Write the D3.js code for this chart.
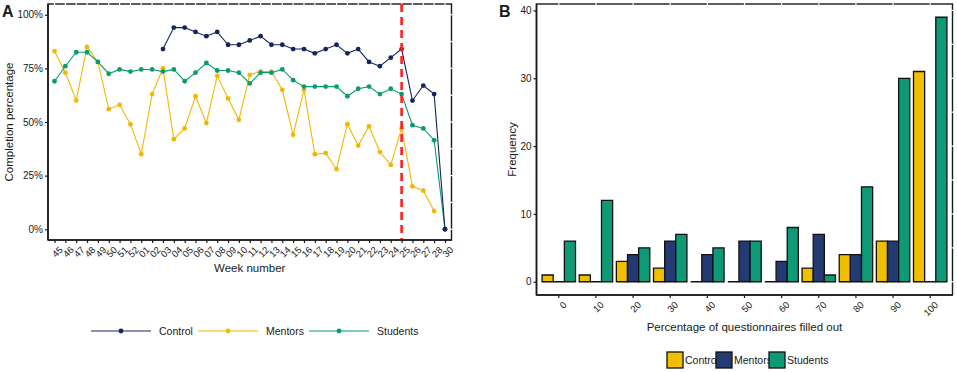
<!DOCTYPE html>
<html>
<head>
<meta charset="utf-8">
<script src="https://cdn.jsdelivr.net/npm/d3@7"></script>
<style>
  body { margin: 0; background: #fff; }
  text { font-family: "Liberation Sans", Arial, sans-serif; fill: #1a1a1a; }
</style>
</head>
<body>
<svg id="chart" width="957" height="372"></svg>
<script>
// ---- panel A data: weekly completion percentage
const weeks = ["45","46","47","48","49","50","51","52","01","02","03","04","05","06","07","08","09","10",
  "11","12","13","14","15","16","17","18","19","20","21","22","23","24","25","26","27","28","30"];
const controlPct = [null,null,null,null,null,null,null,null,null,null,84,94,94,92,90,92,86,86,
  88,90,86,86,84,84,82,84,86,82,84,78,76,80,84,60,67,63,0];
const mentorsPct = [83,73,60,85,78,56,58,49,35,63,75,42,47,62,49.5,71.5,61,51,
  72,73.5,73.5,65,44,65,35,35.5,28,49,39,48,36,30,47,20,18,8.5,null];
const studentsPct = [69,76,82.5,82.5,78,72.5,74.5,73.5,74.5,74.5,73.5,74.5,69,73,77.5,74,74,73,
  68,73,73,74.5,69.5,66.5,66.5,66.5,66.5,62,65.5,66.5,63,65.5,63,48.5,47,41.5,0];
const cutoffWeek = "25";
const pctTicks = [0, 25, 50, 75, 100];

// ---- panel B data: histogram of questionnaires filled out
const bins = ["0","10","20","30","40","50","60","70","80","90","100"];
const groupsB = ["Control", "Mentors", "Students"];
const controlFreq  = [1, 1, 3, 2, 0, 0, 0, 2, 4, 6, 31];
const mentorsFreq  = [0, 0, 4, 6, 4, 6, 3, 7, 4, 6, 0];
const studentsFreq = [6, 12, 5, 7, 5, 6, 8, 1, 14, 30, 39];
const freqTicks = [0, 10, 20, 30, 40];

const lineColors = {Control: "#15245a", Mentors: "#f2b705", Students: "#0c9a70"};
const barColors = {Control: "#f0bf00", Mentors: "#233a73", Students: "#0f9a77"};

const svg = d3.select("#chart");

function frame(g, x0, x1, y0, y1, xs, ys) {
  g.append("rect").attr("x", x0).attr("y", y0).attr("width", x1 - x0).attr("height", y1 - y0)
    .attr("fill", "none").attr("stroke", "#1a1a1a").attr("stroke-width", 1.4);
  // white grid lines cut through the top and right border
  g.selectAll(null).data(xs).enter().append("line")
    .attr("x1", d => d).attr("x2", d => d).attr("y1", y0 - 2).attr("y2", y0 + 2)
    .attr("stroke", "#fff").attr("stroke-width", 1.2);
  g.selectAll(null).data(ys).enter().append("line")
    .attr("y1", d => d).attr("y2", d => d).attr("x1", x1 - 2).attr("x2", x1 + 2)
    .attr("stroke", "#fff").attr("stroke-width", 1.2);
}

function styleAxis(ax) {
  ax.select(".domain").remove();
  ax.selectAll(".tick line").attr("stroke", "#1a1a1a").attr("stroke-width", 1.2);
  ax.selectAll("text").style("font-size", "10px").attr("fill", "#1a1a1a");
}

// ================= Panel A =================
const A = {x0: 48, x1: 451.5, y0: 4, y1: 240};
const xA = d3.scalePoint().domain(weeks).range([A.x0, A.x1]).padding(0.6);
const yA = d3.scaleLinear().domain([-5, 105]).range([A.y1, A.y0]);
const gA = svg.append("g");

const minorA = d3.range(12.5, 100, 25);
frame(gA, A.x0, A.x1, A.y0, A.y1, weeks.map(xA), pctTicks.concat(minorA).map(yA));

const seriesA = [
  {name: "Control", vals: controlPct},
  {name: "Mentors", vals: mentorsPct},
  {name: "Students", vals: studentsPct}
];
const lineA = d3.line().defined(d => d.v != null).x(d => xA(d.w)).y(d => yA(d.v));
const drawOrder = ["Mentors", "Students", "Control"];
drawOrder.forEach(name => {
  const s = seriesA.find(d => d.name === name);
  const pts = weeks.map((w, i) => ({w: w, v: s.vals[i]}));
  gA.append("path").datum(pts).attr("d", lineA).attr("fill", "none")
    .attr("stroke", lineColors[name]).attr("stroke-width", 1.1);
  gA.selectAll(null).data(pts.filter(d => d.v != null)).enter().append("circle")
    .attr("cx", d => xA(d.w)).attr("cy", d => yA(d.v)).attr("r", 2.4)
    .attr("fill", lineColors[name]);
});

gA.append("line").attr("x1", xA(cutoffWeek)).attr("x2", xA(cutoffWeek))
  .attr("y1", A.y0).attr("y2", A.y1)
  .attr("stroke", "#ff1f1f").attr("stroke-width", 2.6).attr("stroke-dasharray", "8,5");

const axA_y = gA.append("g").attr("transform", `translate(${A.x0},0)`)
  .call(d3.axisLeft(yA).tickValues(pctTicks).tickSize(3).tickPadding(2).tickFormat(d => d + "%"));
styleAxis(axA_y);
const axA_x = gA.append("g").attr("transform", `translate(0,${A.y1})`)
  .call(d3.axisBottom(xA).tickSize(3).tickPadding(2));
styleAxis(axA_x);
axA_x.selectAll("text").style("font-size", "9.5px").attr("text-anchor", "end")
  .attr("dy", "0.3em").attr("transform", "translate(3,5) rotate(-45)");
gA.append("line").attr("x1", A.x0).attr("x2", A.x0).attr("y1", A.y0).attr("y2", A.y1)
  .attr("stroke", "#1a1a1a").attr("stroke-width", 1.6);
gA.append("line").attr("x1", A.x0).attr("x2", A.x1).attr("y1", A.y1).attr("y2", A.y1)
  .attr("stroke", "#1a1a1a").attr("stroke-width", 1.6);

gA.append("text").attr("x", (A.x0 + A.x1) / 2).attr("y", 272).attr("text-anchor", "middle")
  .style("font-size", "11.5px").text("Week number");
gA.append("text").attr("transform", `translate(13,${(A.y0 + A.y1) / 2}) rotate(-90)`)
  .attr("text-anchor", "middle").style("font-size", "11.5px").text("Completion percentage");
gA.append("text").attr("x", 2).attr("y", 17).style("font-size", "16px")
  .style("font-weight", "bold").text("A");

// legend A
const legA = gA.append("g").attr("transform", "translate(0,331)");
const legAx = [91, 198, 309];
seriesA.forEach((s, i) => {
  const x = legAx[i];
  legA.append("line").attr("x1", x).attr("x2", x + 60).attr("y1", 0).attr("y2", 0)
    .attr("stroke", lineColors[s.name]).attr("stroke-width", 1.1);
  legA.append("circle").attr("cx", x + 30).attr("cy", 0).attr("r", 2.4).attr("fill", lineColors[s.name]);
  legA.append("text").attr("x", x + 68).attr("y", 4).style("font-size", "10.5px").text(s.name);
});

// ================= Panel B =================
const B = {x0: 536.5, x1: 952.5, y0: 4, y1: 295};
const xB = d3.scaleBand().domain(bins).range([B.x0, B.x1]).paddingInner(0.1).paddingOuter(0.15);
const xSub = d3.scaleBand().domain(groupsB).range([0, xB.bandwidth()]);
const yB = d3.scaleLinear().domain([-1.95, 40.95]).range([B.y1, B.y0]);
const gB = svg.append("g");

const minorB = d3.range(5, 40, 10);
frame(gB, B.x0, B.x1, B.y0, B.y1, bins.map(b => xB(b) + xB.bandwidth() / 2), freqTicks.concat(minorB).map(yB));

const freqs = {Control: controlFreq, Mentors: mentorsFreq, Students: studentsFreq};
const barData = [];
bins.forEach((b, i) => groupsB.forEach(g => barData.push({bin: b, group: g, v: freqs[g][i]})));
gB.selectAll(null).data(barData).enter().append("path")
  .attr("d", d => {
    const x = xB(d.bin) + xSub(d.group), w = xSub.bandwidth();
    const yTop = yB(d.v), yBase = yB(0);
    return `M${x},${yBase}H${x + w}V${yTop}H${x}Z`;
  })
  .attr("fill", d => barColors[d.group]).attr("stroke", "#111").attr("stroke-width", 1.3);

const axB_y = gB.append("g").attr("transform", `translate(${B.x0},0)`)
  .call(d3.axisLeft(yB).tickValues(freqTicks).tickSize(3).tickPadding(2));
styleAxis(axB_y);
const axB_x = gB.append("g").attr("transform", `translate(0,${B.y1})`)
  .call(d3.axisBottom(xB).tickSize(3).tickPadding(2));
styleAxis(axB_x);
axB_x.selectAll("text").style("font-size", "9.5px").attr("text-anchor", "end")
  .attr("dy", "0.3em").attr("transform", "translate(3,5) rotate(-45)");
gB.append("line").attr("x1", B.x0).attr("x2", B.x0).attr("y1", B.y0).attr("y2", B.y1)
  .attr("stroke", "#1a1a1a").attr("stroke-width", 1.6);
gB.append("line").attr("x1", B.x0).attr("x2", B.x1).attr("y1", B.y1).attr("y2", B.y1)
  .attr("stroke", "#1a1a1a").attr("stroke-width", 1.6);

gB.append("text").attr("x", (B.x0 + B.x1) / 2).attr("y", 331).attr("text-anchor", "middle")
  .style("font-size", "11.5px").text("Percentage of questionnaires filled out");
gB.append("text").attr("transform", `translate(516,${(B.y0 + B.y1) / 2}) rotate(-90)`)
  .attr("text-anchor", "middle").style("font-size", "11.5px").text("Frequency");
gB.append("text").attr("x", 499).attr("y", 17).style("font-size", "16px")
  .style("font-weight", "bold").text("B");

// legend B
const legB = gB.append("g").attr("transform", "translate(0,352)");
const legBx = [667, 716, 769];
groupsB.forEach((g, i) => {
  legB.append("rect").attr("x", legBx[i]).attr("y", 0).attr("width", 16).attr("height", 16)
    .attr("fill", barColors[g]).attr("stroke", "#111").attr("stroke-width", 1.3);
  legB.append("text").attr("x", legBx[i] + 18).attr("y", 12).style("font-size", "10.5px").text(g);
});
</script>
</body>
</html>
